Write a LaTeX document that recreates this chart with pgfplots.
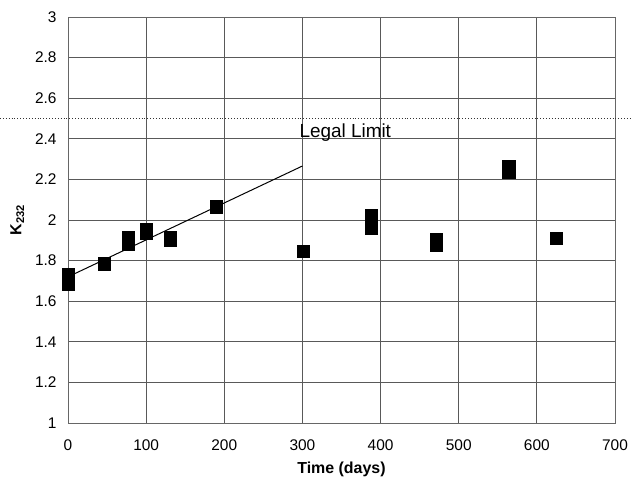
\documentclass[border=0pt]{standalone}
\usepackage{pgfplots}
\pgfplotsset{compat=1.18}
\usepackage{fontspec}
\setmainfont{Liberation Sans}
\begin{document}
\begin{tikzpicture}
\begin{axis}[
  scale only axis,
  width=547bp, height=406bp,
  xmin=0, xmax=700, ymin=1, ymax=3,
  xtick={0,100,...,700},
  ytick={1,1.2,...,3},
  yticklabel style={/pgf/number format/fixed,/pgf/number format/precision=1, xshift=-8bp},
  xticklabel style={yshift=-13bp},
  /pgf/number format/assume math mode=true,
  tick style={draw=none},
  grid=major,
  major grid style={draw=black!65, line width=0.8pt},
  axis line style={draw=black!60, line width=0.8pt},
  ticklabel style={font=\fontsize{15.5}{17}\selectfont},
  xlabel={\textbf{Time (days)}},
  ylabel={\textbf{K\textsubscript{232}}},
  label style={font=\fontsize{16}{18}\selectfont},
  xlabel style={yshift=-5bp},
  ylabel style={yshift=4bp},
  clip=false,
]
% legal limit
\addplot[black!80, dotted, line width=0.9pt] coordinates {(-87,2.5) (720.5,2.5)};
% trend
\addplot[black, line width=1pt] coordinates {(0,1.72) (300,2.266)};
% data
\addplot[only marks, mark=square*, mark size=6.2bp, mark options={fill=black, draw=black}] coordinates {
  (0,1.73) (0,1.685)
  (46,1.785)
  (77,1.915) (77,1.88)
  (100,1.955) (100,1.935)
  (131,1.915) (131,1.90)
  (190,2.065)
  (301,1.845)
  (388,2.025) (388,1.96)
  (471,1.905) (471,1.875)
  (564,2.265) (564,2.235)
  (625,1.91)
};
\node[anchor=base west, font=\fontsize{19}{21}\selectfont, inner sep=0pt] at (axis cs:296,2.405) {Legal Limit};
\coordinate (SW) at (rel axis cs:0,0);
\coordinate (NE) at (rel axis cs:1,1);
\end{axis}
\pgfresetboundingbox
\path ([shift={(-68bp,-56bp)}]SW) rectangle ([shift={(16bp,17bp)}]NE);
\end{tikzpicture}
\end{document}
